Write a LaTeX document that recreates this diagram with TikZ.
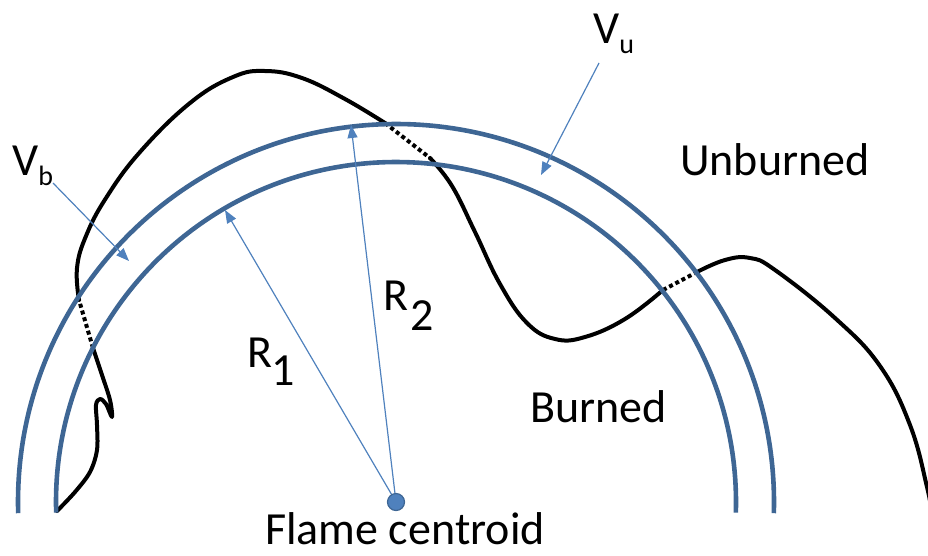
\documentclass[tikz,border=0pt]{standalone}
\usepackage{fontspec}
\setmainfont{Carlito}
\usetikzlibrary{arrows.meta}
\definecolor{ringblue}{RGB}{62,102,148}
\definecolor{arrowblue}{RGB}{79,129,189}
\begin{document}
\begin{tikzpicture}[x=1pt,y=-1pt,
  ring/.style={draw=ringblue,line width=4.6pt},
  flame/.style={draw=black,line width=4pt,line cap=round,line join=round},
  flamegap/.style={draw=black,line width=4pt,dash pattern=on 4pt off 3pt},
  radarrow/.style={draw=arrowblue,line width=1.2pt,-{Triangle[length=13pt,width=10pt]}},
  lbl/.style={anchor=base west,inner sep=0pt,font=\fontsize{46}{50}\selectfont}]
\useasboundingbox (0,0) rectangle (928,555);
\clip (0,0) rectangle (928,555);
\coordinate (c) at (396,502);
% flame front crossings
\coordinate (fa) at (93,348);
\coordinate (fb) at (79,300);
\coordinate (fc) at (385,123);
\coordinate (fd) at (430,158);
\coordinate (fe) at (663,290);
\coordinate (ff) at (697,272);
% flame front
\draw[flame] plot[smooth,tension=0.55] coordinates {(57,511) (75,492) (90,472) (97,450) (97,425) (96,405) (100,399) (106,404) (112,417) (110,400) (102,375) (93,348)};
\draw[flamegap] (fa) -- (fb);
\draw[flame] plot[smooth,tension=0.7] coordinates {(79,300) (77,268) (86,236) (106,198) (140,152) (190,103) (233,77) (265,71) (302,78) (345,99) (385,123)};
\draw[flamegap] (fc) -- (fd);
\draw[flame] plot[smooth,tension=0.7] coordinates {(430,158) (452,186) (475,232) (500,284) (527,323) (555,339) (585,337) (625,319) (663,290)};
\draw[flamegap] (fe) -- (ff);
\draw[flame] plot[smooth,tension=0.7] coordinates {(697,272) (725,260) (750,258) (775,270) (835,318) (880,366) (910,425) (927,487) (932,515)};
% rings
\draw[ring] (c) ++(178.2:340) arc[start angle=178.2,end angle=361.8,radius=340];
\draw[ring] (c) ++(178.3:378) arc[start angle=178.3,end angle=361.7,radius=378];
% labels
\node[lbl] (vb) at (12,175) {V\raisebox{-10pt}{\fontsize{28}{30}\selectfont b}};
\node[lbl] (vu) at (593,43) {V\raisebox{-10pt}{\fontsize{28}{30}\selectfont u}};
\node[lbl] (unb) at (680,175) {Unburned};
\node[lbl] (bur) at (530,422) {Burned};
\node[lbl] (r1) at (247,367) {R\kern-1pt\raisebox{-18pt}{1}};
\node[lbl] (r2) at (383,310) {R\kern2pt\raisebox{-20pt}{2}};
\node[lbl] (fcl) at (265,544) {Flame centroid};
% arrows
\coordinate (r1tip) at (225,210);
\coordinate (r2tip) at (351,125);
\coordinate (vbs) at (53,183);
\coordinate (vbtip) at (129,261);
\coordinate (vus) at (599,63);
\coordinate (vutip) at (541,175);
\draw[radarrow] (c) -- (r1tip);
\draw[radarrow] (c) -- (r2tip);
\draw[radarrow] (vbs) -- (vbtip);
\draw[radarrow] (vus) -- (vutip);
\node[circle,fill=arrowblue,draw=ringblue,line width=1.2pt,minimum size=17pt,inner sep=0pt] (cdot) at (c) {};
\end{tikzpicture}
\end{document}
